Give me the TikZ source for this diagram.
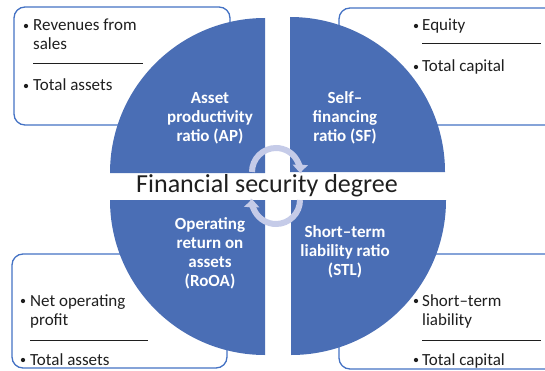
\documentclass[tikz,border=0pt]{standalone}
\usepackage{fontspec}
\setmainfont{Carlito}
\usetikzlibrary{arrows.meta}
\definecolor{quad}{HTML}{4A6EB5}
\definecolor{boxline}{HTML}{4472C4}
\definecolor{lav}{HTML}{C5CBE8}
\definecolor{txt}{HTML}{1F1F1F}
\tikzset{
  x=1pt, y=1pt,
  infobox/.style={draw=boxline, line width=1.3pt, fill=white, rounded corners=11pt},
  quadfill/.style={fill=quad, draw=none},
  qtext/.style={text=white, font=\fontsize{17}{18.8}\selectfont\bfseries, align=center, inner sep=0pt},
  btext/.style={text=txt, font=\fontsize{17}{19}\selectfont, anchor=base west, inner sep=0pt},
  bul/.style={circle, fill=txt, inner sep=0pt, minimum size=4.3pt},
  rulenode/.style={inner sep=0pt, anchor=west, text=txt},
  cyc/.style={draw=lav, line width=6pt, -{Triangle[length=8pt, width=15pt]}},
}
\begin{document}
\begin{tikzpicture}
\useasboundingbox (0,0) rectangle (545,370);
% boxes
\draw[infobox] (14,245) rectangle (230,363);
\draw[infobox] (339,245) rectangle (570,362);
\draw[infobox] (12,2) rectangle (227,116);
\draw[infobox] (339,1) rectangle (570,116);
% quadrants
\fill[quadfill] (265,197) -- (110,197) arc[start angle=180, end angle=90, radius=155] -- cycle;
\fill[quadfill] (290,198) -- (290,353) arc[start angle=90, end angle=0, radius=155] -- cycle;
\fill[quadfill] (265,170) -- (110,170) arc[start angle=180, end angle=270, radius=155] -- cycle;
\fill[quadfill] (291,170) -- (446,170) arc[start angle=0, end angle=-90, radius=155] -- cycle;
% quadrant labels
\node[qtext] (ap) at (210,252) {Asset\\productivity\\ratio (AP)};
\node[qtext] (sf) at (345,252) {Self–\\financing\\ratio (SF)};
\node[qtext] (roa) at (210,116.5) {Operating\\return on\\assets\\(RoOA)};
\node[qtext] (stl) at (345,118) {Short–term\\liability ratio\\(STL)};
% centre text
\node[text=txt, font=\fontsize{26}{28}\selectfont, inner sep=0pt] (fsd) at (267,184) {Financial security degree};
% cycle arrows
\coordinate (c1s) at (252,198);
\coordinate (c2s) at (300,170);
\draw[cyc] (c1s) arc[start angle=180, end angle=-2, radius=24];
\draw[cyc] (c2s) arc[start angle=0, end angle=-182, radius=24];
% top-left box text
\node[bul] (b1) at (26,344) {};
\node[btext] (t1a) at (33,339) {Revenues from};
\node[btext] (t1b) at (33,320) {sales};
\node[rulenode] (r1) at (33,307) {\rule{110pt}{0.6pt}};
\node[bul] (b2) at (26,284) {};
\node[btext] (t1c) at (33,279) {Total assets};
% top-right box text
\node[bul] (b3) at (416,344) {};
\node[btext] (t2a) at (422,339) {Equity};
\node[rulenode] (r2) at (422,327) {\rule{119pt}{0.6pt}};
\node[bul] (b4) at (416,303) {};
\node[btext] (t2b) at (422,298) {Total capital};
% bottom-left box text
\node[bul] (b5) at (23,69) {};
\node[btext] (t3a) at (30,64) {Net operating};
\node[btext] (t3b) at (30,45) {profit};
\node[rulenode] (r3) at (30,30) {\rule{118pt}{0.6pt}};
\node[bul] (b6) at (23,10) {};
\node[btext] (t3c) at (30,5) {Total assets};
% bottom-right box text
\node[bul] (b7) at (416,69) {};
\node[btext] (t4a) at (422,64) {Short–term};
\node[btext] (t4b) at (422,45) {liability};
\node[rulenode] (r4) at (422,30) {\rule{119pt}{0.6pt}};
\node[bul] (b8) at (416,10) {};
\node[btext] (t4c) at (422,5) {Total capital};
\end{tikzpicture}
\end{document}
